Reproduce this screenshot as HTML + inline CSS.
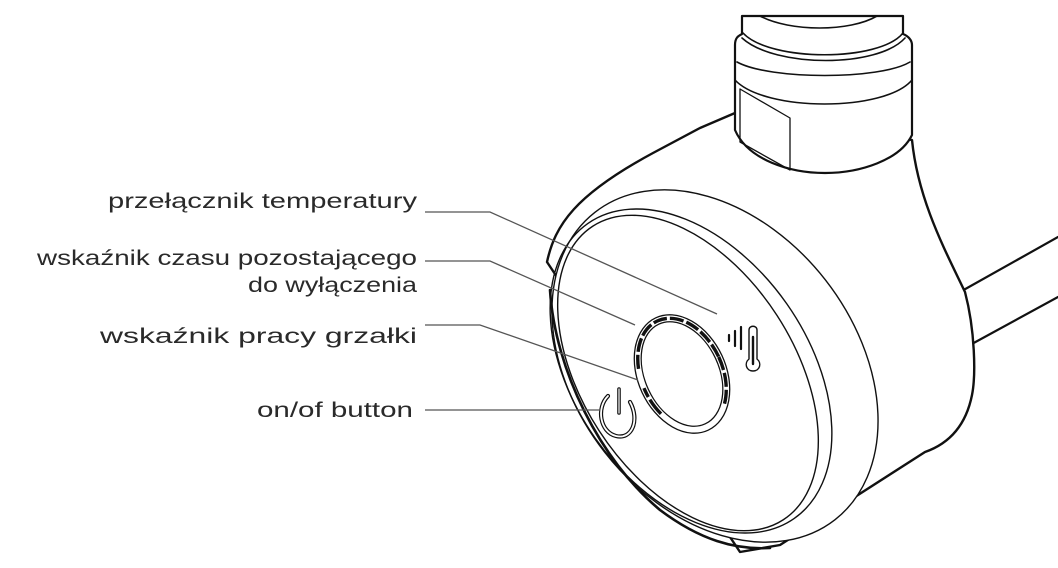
<!DOCTYPE html>
<html><head><meta charset="utf-8"><style>
html,body{margin:0;padding:0;background:#fff;overflow:hidden;width:1058px;height:568px;}
svg{display:block;}
text{font-family:"Liberation Sans",sans-serif;font-size:21px;fill:#2a2a2a;}
</style></head><body>
<svg width="1058" height="568" viewBox="0 0 1058 568" xmlns="http://www.w3.org/2000/svg">
<g fill="none" stroke="#111" stroke-width="1.6" stroke-linejoin="round" stroke-linecap="round">
  <line x1="960" y1="292" x2="1058" y2="237" stroke-width="2.2"/>
  <line x1="970" y1="345" x2="1058" y2="297" stroke-width="2.2"/>
  <path d="M547,262 C555,225 575,195 653,153 L700,128 L735,113 L912,140 C918,200 945,250 965,292 C975,330 976,375 972,395 C965,430 945,445 925,452 L780,545 L740,552 Z" fill="#fff" stroke-width="2.4"/>
  <path d="M735,45 C735,38 738,36 742,34 L742,16 L903,16 L903,34 C908,36 912,40 912,45 L912,135 C900,160 860,173 825,173 C790,173 748,160 735,130 Z" fill="#fff" stroke-width="2.2"/>
  <path d="M760,16 C790,32 850,32 877,16" />
  <path d="M743,33 C770,62 880,62 903,33" />
  <path d="M742,38 C775,68 878,68 905,38" />
  <path d="M737,62 C770,80 880,80 910,62" />
  <path d="M735,80 C765,112 885,112 912,80" />
  <path d="M740,89 L790,118 L790,170 M740,89 L740,142 L790,170" stroke-width="1.3"/>
  <ellipse cx="715" cy="366" rx="195" ry="140" transform="rotate(52 715 366)" fill="#fff" stroke-width="1.4"/>
  <path d="M550,290 C555,370 600,460 660,510 C700,540 735,550 770,548" stroke-width="2.6"/>
  <ellipse cx="691" cy="371" rx="180" ry="117" transform="rotate(55 691 371)" stroke-width="1.4"/>
  <ellipse cx="688" cy="373" rx="175" ry="106" transform="rotate(57 688 373)" stroke-width="1.4"/>
  <ellipse cx="682" cy="374" rx="44" ry="62" transform="rotate(-25 682 374)" stroke-width="1.3"/>
  <ellipse cx="682" cy="374" rx="37" ry="55" transform="rotate(-25 682 374)" stroke-width="1.3"/>
  <ellipse cx="682" cy="374" rx="40.5" ry="58.5" transform="rotate(-25 682 374)" stroke-width="3.4" stroke-dasharray="14 3 14 3 14 3 0 78 18 3 10 20 14 3 14 3 14 3 14 3 14 3 14 3 14 3 14 40" stroke-linecap="butt"/>
  <path d="M608,396 C596,408 600,432 616,436 C632,440 640,420 630,402" stroke-width="4.2"/>
  <path d="M608,396 C596,408 600,432 616,436 C632,440 640,420 630,402" stroke="#fff" stroke-width="1.8"/>
  <line x1="619" y1="389" x2="619" y2="413" stroke-width="3.6"/>
  <line x1="619" y1="389" x2="619" y2="413" stroke="#fff" stroke-width="1.2"/>
  <line x1="729" y1="335" x2="729" y2="341" stroke-width="2.2"/>
  <line x1="735" y1="331" x2="735" y2="346" stroke-width="2.2"/>
  <line x1="741" y1="327" x2="741" y2="349" stroke-width="2.2"/>
  <path d="M749,359 L749,330 C749,325 757,325 757,330 L757,359 C762,363 760,371 753,371 C746,371 744,363 749,359 Z" stroke-width="1.4"/>
  <line x1="753" y1="337" x2="753" y2="364" stroke-width="2.4"/>
</g>
<g fill="none" stroke="#555" stroke-width="1.3">
  <polyline points="425,212 490,212 717,314"/>
  <polyline points="425,261 490,261 635,325"/>
  <polyline points="425,325 480,325 638,380"/>
  <polyline points="425,410 600,410"/>
</g>
<text x="417" y="208" text-anchor="end" textLength="309" lengthAdjust="spacingAndGlyphs">przełącznik temperatury</text>
<text x="417" y="265" text-anchor="end" textLength="380" lengthAdjust="spacingAndGlyphs">wskaźnik czasu pozostającego</text>
<text x="417" y="292" text-anchor="end" textLength="169" lengthAdjust="spacingAndGlyphs">do wyłączenia</text>
<text x="417" y="343" text-anchor="end" textLength="317" lengthAdjust="spacingAndGlyphs">wskaźnik pracy grzałki</text>
<text x="413" y="417" text-anchor="end" textLength="156" lengthAdjust="spacingAndGlyphs">on/of button</text>
</svg>
</body></html>
